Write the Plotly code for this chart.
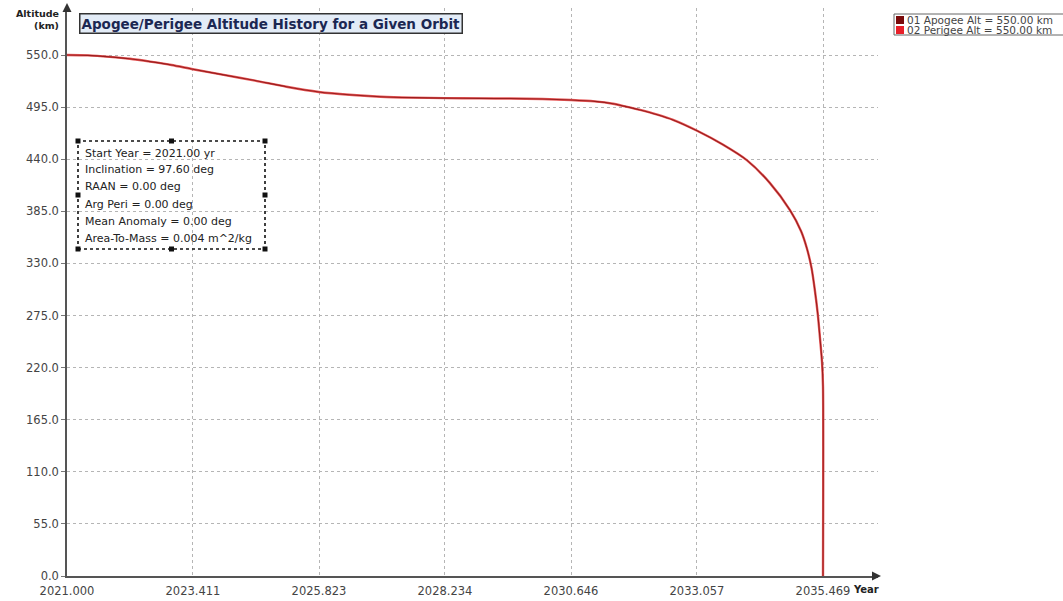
import plotly.graph_objects as go

# ---- data ----
years = [2021.00, 2021.40, 2021.82, 2022.20, 2022.59, 2023.00, 2023.41, 2024.00, 2024.60,
         2025.20, 2025.82, 2026.40, 2027.00, 2027.60, 2028.23, 2028.90, 2029.48, 2030.10,
         2030.65, 2031.10, 2031.45, 2031.70, 2031.97, 2032.30, 2032.60, 2033.06, 2033.55,
         2034.01, 2034.45, 2034.84, 2035.05, 2035.16, 2035.25, 2035.31, 2035.37, 2035.41,
         2035.45, 2035.469, 2035.469]
apogee_alt = [550.0, 549.6, 548.0, 546.0, 543.0, 539.5, 535.0, 529.0, 523.0,
              516.5, 511.0, 508.0, 506.0, 505.0, 504.5, 504.2, 504.0, 503.5,
              502.5, 501.0, 498.5, 495.5, 492.0, 487.0, 481.5, 470.0, 455.5,
              439.0, 415.0, 386.0, 364.0, 346.0, 325.0, 303.0, 276.0, 252.0,
              226.0, 200.0, 0.0]
perigee_alt = [550.0, 549.6, 548.0, 546.0, 543.0, 539.5, 535.0, 529.0, 523.0,
               516.5, 511.0, 508.0, 506.0, 505.0, 504.5, 504.2, 504.0, 503.5,
               502.5, 501.0, 498.5, 495.5, 492.0, 487.0, 481.5, 470.0, 455.5,
               439.0, 415.0, 386.0, 364.0, 346.0, 325.0, 303.0, 276.0, 252.0,
               226.0, 200.0, 0.0]

x_tickvals = [2021.000, 2023.411, 2025.823, 2028.234, 2030.646, 2033.057, 2035.469]
x_ticktext = ["2021.000", "2023.411", "2025.823", "2028.234", "2030.646", "2033.057", "2035.469"]
y_tickvals = [0, 55, 110, 165, 220, 275, 330, 385, 440, 495, 550]
y_ticktext = ["%.1f" % v for v in y_tickvals]

series_names = ["01 Apogee Alt = 550.00 km", "02 Perigee Alt = 550.00 km"]
series_colors = ["#7a0a0a", "#e8202a"]

title_text = "Apogee/Perigee Altitude History for a Given Orbit"
info_lines = ["Start Year = 2021.00 yr", "Inclination = 97.60 deg", "RAAN = 0.00 deg",
              "Arg Peri = 0.00 deg", "Mean Anomaly = 0.00 deg", "Area-To-Mass = 0.004 m^2/kg"]

# ---- layout geometry (pixels) ----
W, H = 1063, 601
L, R, T, B = 67, 878, 8, 576


def px_x(px):
    return (px - L) / (R - L)


def px_y(py):
    return (B - py) / (B - T)


FONT = "DejaVu Sans"

fig = go.Figure()
fig.add_trace(go.Scatter(x=years, y=perigee_alt, mode="lines", name=series_names[1],
                         line=dict(color="#e85a5a", width=2.4, shape="spline", smoothing=0.7),
                         hoverinfo="skip"))
fig.add_trace(go.Scatter(x=years, y=apogee_alt, mode="lines", name=series_names[0],
                         line=dict(color="#9a1e1e", width=1.1, shape="spline", smoothing=0.7),
                         hoverinfo="skip"))

fig.update_layout(
    width=W, height=H,
    margin=dict(l=L, r=W - R, t=T, b=H - B, pad=0, autoexpand=False),
    plot_bgcolor="white", paper_bgcolor="white",
    showlegend=False,
    font=dict(family=FONT, size=11, color="#333"),
    xaxis=dict(range=[2021.0, 2021.0 + (R - L) * (14.469 / (823 - L))],
               tickvals=x_tickvals, ticktext=x_ticktext, automargin=False,
               showgrid=True, gridcolor="#b5b5b5", griddash="dot", gridwidth=1,
               showline=True, linecolor="#555", linewidth=1.5,
               zeroline=False, ticks="", ticklabelstandoff=3,
               tickfont=dict(size=11.5, color="#444")),
    yaxis=dict(range=[0, (B - T) / ((B - 55) / 550.0)],
               tickvals=y_tickvals, ticktext=y_ticktext, automargin=False,
               showgrid=True, gridcolor="#b5b5b5", griddash="dot", gridwidth=1,
               showline=True, linecolor="#555", linewidth=1.5,
               zeroline=False, ticks="outside", ticklen=4, tickcolor="#777",
               tickfont=dict(size=11.5, color="#444")),
)

shapes = []
# axis arrows
shapes.append(dict(type="path", xref="paper", yref="paper",
                   path="M %f,%f L %f,%f L %f,%f Z" % (px_x(881), px_y(576), px_x(872), px_y(571.5),
                                                       px_x(872), px_y(580.5)),
                   fillcolor="#333", line=dict(color="#333", width=0)))
shapes.append(dict(type="path", xref="paper", yref="paper",
                   path="M %f,%f L %f,%f L %f,%f Z" % (px_x(67), px_y(3), px_x(62.5), px_y(12),
                                                       px_x(71.5), px_y(12)),
                   fillcolor="#333", line=dict(color="#333", width=0)))
# info box
bx0, bx1, by0, by1 = 78, 265, 141, 249
shapes.append(dict(type="rect", xref="paper", yref="paper",
                   x0=px_x(bx0), x1=px_x(bx1), y0=px_y(by1), y1=px_y(by0),
                   line=dict(color="#111", width=1.6, dash="dot"), fillcolor="rgba(255,255,255,0)"))
hx = [bx0, (bx0 + bx1) / 2, bx1]
hy = [by0, (by0 + by1) / 2, by1]
for i, cx in enumerate(hx):
    for j, cy in enumerate(hy):
        if i == 1 and j == 1:
            continue
        shapes.append(dict(type="rect", xref="paper", yref="paper",
                           x0=px_x(cx - 2.5), x1=px_x(cx + 2.5), y0=px_y(cy + 2.5), y1=px_y(cy - 2.5),
                           line=dict(width=0), fillcolor="#111"))
# legend box & swatches
lg_x0, lg_y0, lg_y1 = 894, 14, 35
shapes.append(dict(type="rect", xref="paper", yref="paper",
                   x0=px_x(lg_x0), x1=px_x(1075), y0=px_y(lg_y1), y1=px_y(lg_y0),
                   line=dict(color="#666", width=1), fillcolor="white"))
row_y = [20, 30]
for k in range(2):
    shapes.append(dict(type="rect", xref="paper", yref="paper",
                       x0=px_x(896), x1=px_x(904), y0=px_y(row_y[k] + 4), y1=px_y(row_y[k] - 4),
                       line=dict(width=0), fillcolor=series_colors[k]))

annotations = []
# title
annotations.append(dict(xref="paper", yref="paper", x=px_x(79), y=px_y(13),
                        xanchor="left", yanchor="top", showarrow=False,
                        text="<b>%s</b>" % title_text,
                        font=dict(family=FONT, size=13.5, color="#1b2752"),
                        bgcolor="#e3ecf7", bordercolor="#333", borderwidth=1.5, borderpad=1))
# y axis title
annotations.append(dict(xref="paper", yref="paper", x=px_x(61), y=px_y(6),
                        xanchor="right", yanchor="top", showarrow=False, align="right",
                        text="<b>Altitude</b><br><b>(km)</b>",
                        font=dict(family=FONT, size=9.5, color="#222")))
# x axis title
annotations.append(dict(xref="paper", yref="paper", x=px_x(881), y=px_y(589),
                        xanchor="right", yanchor="middle", showarrow=False,
                        text="<b>Year</b>", font=dict(family=FONT, size=10, color="#222")))
# info lines
for k, line in enumerate(info_lines):
    annotations.append(dict(xref="paper", yref="paper", x=px_x(83), y=px_y(153 + k * 17),
                            xanchor="left", yanchor="middle", showarrow=False,
                            text=line, font=dict(family=FONT, size=11, color="#222")))
# legend text
for k in range(2):
    annotations.append(dict(xref="paper", yref="paper", x=px_x(905), y=px_y(row_y[k]),
                            xanchor="left", yanchor="middle", showarrow=False,
                            text=series_names[k], font=dict(family=FONT, size=10.5, color="#444")))

fig.update_layout(shapes=shapes, annotations=annotations)
fig.write_html("out.html")
